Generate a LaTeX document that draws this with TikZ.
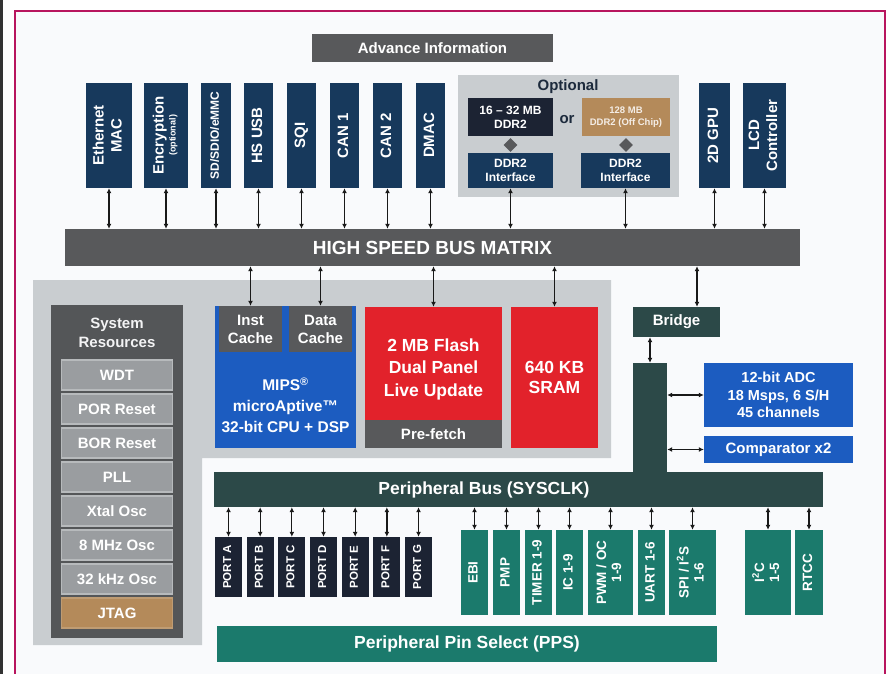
\documentclass[tikz,border=0pt]{standalone}
\usepackage{fontspec}
\setmainfont{Liberation Sans}
\usetikzlibrary{arrows.meta,shapes.geometric}
\definecolor{navy}{HTML}{17395C}
\definecolor{inkblue}{HTML}{1C2333}
\definecolor{midgray}{HTML}{58595B}
\definecolor{regiongray}{HTML}{C9CDD0}
\definecolor{sysgray}{HTML}{545658}
\definecolor{itemgray}{HTML}{9A9DA0}
\definecolor{itemedge}{HTML}{B7BABC}
\definecolor{jtagtan}{HTML}{B48A5A}
\definecolor{cpublue}{HTML}{1C5CC0}
\definecolor{flashred}{HTML}{E2222B}
\definecolor{busteal}{HTML}{2C4948}
\definecolor{perteal}{HTML}{1B7A6C}
\definecolor{framecol}{HTML}{B8155E}
\definecolor{paper}{HTML}{F9FAFC}
\definecolor{optink}{HTML}{1C2A3C}
\newcommand{\vlabel}[1]{\rotatebox{90}{\begin{tabular}{@{}c@{}}#1\end{tabular}}}
\begin{document}
\begin{tikzpicture}[x=1pt,y=-1pt,
	box/.style={rectangle,inner sep=0pt,text=white,align=center},
	modbox/.style={box,fill=navy,minimum height=105pt,font=\bfseries\fontsize{15}{18}\selectfont},
	ddrbox/.style={box,minimum height=38pt,font=\bfseries\fontsize{12}{14}\selectfont},
	busbar/.style={box,fill=midgray},
	sysitem/.style={box,fill=itemgray,draw=itemedge,line width=1.2pt,minimum width=111pt,minimum height=30pt,font=\bfseries\fontsize{15}{18}\selectfont},
	cachebox/.style={box,fill=midgray,minimum width=63pt,minimum height=46pt,font=\bfseries\fontsize{15}{18}\selectfont},
	bigtext/.style={text=white,align=center,font=\bfseries\fontsize{17.5}{22.5}\selectfont},
	portbox/.style={box,fill=inkblue,minimum width=27pt,minimum height=60pt,font=\bfseries\fontsize{11.5}{13}\selectfont},
	tealbox/.style={box,fill=perteal,minimum height=85pt,font=\bfseries\fontsize{13.5}{15}\selectfont},
	link/.style={{Latex[length=5pt,width=5pt]}-{Latex[length=5pt,width=5pt]},line width=1.3pt,draw=black!90}]
	\useasboundingbox (0,0) rectangle (891,674);
	% page edge and frame
	\fill[black!80] (0,0) rectangle (3,674);
	\fill[paper] (15,11) rectangle (885,674);
	\draw[framecol,line width=2pt] (15,676) -- (15,11) -- (885,11) -- (885,676);
	\node[busbar,minimum width=241pt,minimum height=28pt,font=\bfseries\fontsize{15}{18}\selectfont] (adv) at (432.5,48) {Advance Information};
	% top modules
	\node[modbox,minimum width=46pt] (eth) at (109,135.5) {\vlabel{Ethernet\\MAC}};
	\node[modbox,minimum width=44pt] (enc) at (166,135.5) {\vlabel{Encryption\\[-6pt]{\fontsize{9}{10}\selectfont (optional)}}};
	\node[modbox,minimum width=30pt,font=\bfseries\fontsize{12}{14}\selectfont] (sd) at (216,135.5) {\vlabel{SD/SDIO/eMMC}};
	\node[modbox,minimum width=29pt] (usb) at (258.5,135.5) {\vlabel{HS USB}};
	\node[modbox,minimum width=29pt] (sqi) at (301.5,135.5) {\vlabel{SQI}};
	\node[modbox,minimum width=29pt] (can1) at (344.5,135.5) {\vlabel{CAN 1}};
	\node[modbox,minimum width=29pt] (can2) at (387.5,135.5) {\vlabel{CAN 2}};
	\node[modbox,minimum width=29pt] (dmac) at (430.5,135.5) {\vlabel{DMAC}};
	\node[modbox,minimum width=31pt] (gpu) at (714.5,135.5) {\vlabel{2D GPU}};
	\node[modbox,minimum width=43pt] (lcd) at (764.5,135.5) {\vlabel{LCD\\Controller}};
	% optional memory
	\node[box,fill=regiongray,minimum width=221pt,minimum height=122pt] (opt) at (568.5,136) {};
	\node[text=optink,font=\bfseries\fontsize{15}{16}\selectfont] (optlbl) at (568,87) {Optional};
	\node[ddrbox,fill=inkblue,minimum width=85pt] (ddra) at (510.5,117.5) {16 -- 32 MB\\DDR2};
	\node[text=optink,font=\bfseries\fontsize{15}{16}\selectfont] (orlbl) at (567,120) {or};
	\node[ddrbox,fill=jtagtan,minimum width=88pt,text=white!85!jtagtan,font=\bfseries\fontsize{9.5}{12}\selectfont] (ddrb) at (626,117.5) {128 MB\\DDR2 (Off Chip)};
	\node[diamond,fill=midgray,inner sep=0pt,minimum size=14pt] (diaa) at (510.5,145) {};
	\node[diamond,fill=midgray,inner sep=0pt,minimum size=14pt] (diab) at (626,145) {};
	\node[ddrbox,fill=navy,minimum width=85pt,minimum height=35pt] (ddrifa) at (510.5,170.5) {DDR2\\Interface};
	\node[ddrbox,fill=navy,minimum width=89pt,minimum height=35pt] (ddrifb) at (625.5,170.5) {DDR2\\Interface};
	% high speed bus
	\node[busbar,minimum width=735pt,minimum height=37pt,font=\bfseries\fontsize{19}{22}\selectfont] (hsbus) at (432.5,247.5) {HIGH SPEED BUS MATRIX};
	\foreach \n in {eth,enc,sd,usb,sqi,can1,can2,dmac,ddrifa,ddrifb,gpu,lcd}
		\draw[link] (\n.south) -- (\n.south |- hsbus.north);
	% core region
	\fill[regiongray] (33,280) -- (611,280) -- (611,458) -- (202,458) -- (202,645) -- (33,645) -- cycle;
	\node[box,fill=sysgray,minimum width=132pt,minimum height=333pt] (sysres) at (117,471.5) {};
	\node[text=white!88!itemgray,align=center,font=\bfseries\fontsize{15}{19}\selectfont] (systitle) at (117,333) {System\\Resources};
	\foreach \t [count=\i from 0] in {WDT,POR Reset,BOR Reset,PLL,Xtal Osc,8 MHz Osc,32 kHz Osc}
		\node[sysitem] (sys\i) at (117,{375+34*\i}) {\t};
	\node[sysitem,fill=jtagtan,draw=jtagtan!85!white] (jtag) at (117,613) {JTAG};
	% cpu
	\node[box,fill=cpublue,minimum width=141pt,minimum height=142pt] (cpu) at (285.5,377) {};
	\node[cachebox] (inst) at (250.5,329) {Inst\\Cache};
	\node[cachebox] (data) at (320.5,329) {Data\\Cache};
	\node[text=white,align=center,font=\bfseries\fontsize{15.5}{21}\selectfont] (cputxt) at (285.5,405) {MIPS\textsuperscript{®}\\microAptive™\\32-bit CPU + DSP};
	% memories
	\node[box,fill=flashred,minimum width=137pt,minimum height=113pt] (flash) at (433.5,363.5) {};
	\node[bigtext] (flashtxt) at (433.5,369) {2 MB Flash\\Dual Panel\\Live Update};
	\node[busbar,minimum width=137pt,minimum height=28pt,font=\bfseries\fontsize{15}{18}\selectfont] (pref) at (433.5,434) {Pre-fetch};
	\node[box,fill=flashred,minimum width=87pt,minimum height=141pt,font=\bfseries\fontsize{17.5}{20}\selectfont] (sram) at (554.5,377.5) {640 KB\\SRAM};
	\node[box,fill=busteal,minimum width=87pt,minimum height=30pt,font=\bfseries\fontsize{15}{18}\selectfont] (bridge) at (676.5,322) {Bridge};
	\draw[link] (hsbus.south -| inst) -- (inst.north);
	\draw[link] (hsbus.south -| data) -- (data.north);
	\draw[link] (hsbus.south -| flash) -- (flash.north);
	\draw[link] (hsbus.south -| sram) -- (sram.north);
	\draw[link] (hsbus.south -| 697,0) -- (bridge.north -| 697,0);
	% peripheral bus
	\node[box,fill=busteal,minimum width=34pt,minimum height=110pt] (vbar) at (650,418) {};
	\node[box,fill=busteal,minimum width=609pt,minimum height=35pt] (pbus) at (518.5,489.5) {};
	\node[text=white,font=\bfseries\fontsize{17.5}{20}\selectfont] (pbustxt) at (484,489.5) {Peripheral Bus (SYSCLK)};
	\draw[link] (bridge.south -| vbar) -- (vbar.north);
	\node[box,fill=cpublue,minimum width=149pt,minimum height=64pt,font=\bfseries\fontsize{14.5}{17.5}\selectfont] (adc) at (778.5,395) {12-bit ADC\\18 Msps, 6 S/H\\45 channels};
	\node[box,fill=cpublue,minimum width=149pt,minimum height=27pt,font=\bfseries\fontsize{15}{18}\selectfont] (comp) at (778.5,449.5) {Comparator x2};
	\draw[link] (vbar.east |- adc.west) -- (adc.west);
	\draw[link] (vbar.east |- comp.west) -- (comp.west);
	% ports
	\foreach \p [count=\i from 0] in {A,B,C,D,E,F,G}{
		\node[portbox] (port\p) at ({228.5+31.67*\i},567) {\vlabel{PORT \p}};
		\draw[link] (port\p.north |- pbus.south) -- (port\p.north);
	}
	% peripherals
	\foreach \n/\x/\w/\t in {ebi/474.5/27/EBI,pmp/506.5/27/PMP,tmr/538.5/27/TIMER 1-9,ic/569.5/27/IC 1-9,pwm/610.5/45/{PWM / OC\\1-9},uart/651.5/27/UART 1-6,spi/692.5/47/{SPI / I\textsuperscript{2}S\\1-6},iic/768/46/{I\textsuperscript{2}C\\1-5},rtcc/809/28/RTCC}{
		\node[tealbox,minimum width=\w pt] (\n) at (\x,572.5) {\vlabel{\t}};
		\draw[link] (\n.north |- pbus.south) -- (\n.north);
	}
	\node[box,fill=perteal,minimum width=500pt,minimum height=36pt,font=\bfseries\fontsize{17.5}{20}\selectfont] (pps) at (467,644) {Peripheral Pin Select (PPS)};
\end{tikzpicture}
\end{document}
